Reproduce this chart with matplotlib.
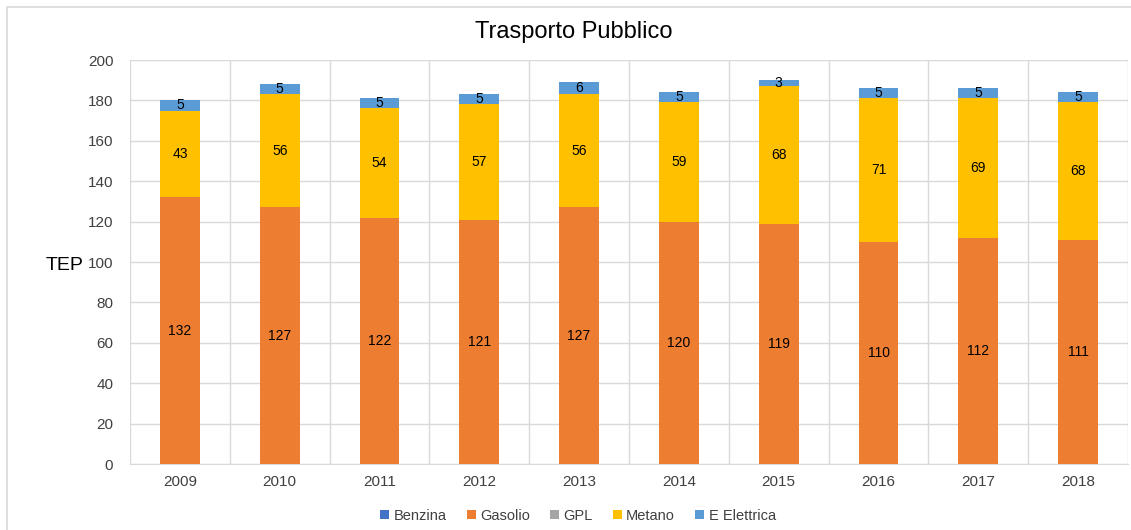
import matplotlib
matplotlib.use("Agg")
import matplotlib.pyplot as plt
from matplotlib.patches import Rectangle
import numpy as np

plt.rcParams['font.family'] = ['Liberation Sans', 'DejaVu Sans']

years = ['2009', '2010', '2011', '2012', '2013', '2014', '2015', '2016', '2017', '2018']
benzina = [0, 0, 0, 0, 0, 0, 0, 0, 0, 0]
gasolio = [132, 127, 122, 121, 127, 120, 119, 110, 112, 111]
gpl = [0, 0, 0, 0, 0, 0, 0, 0, 0, 0]
metano = [43, 56, 54, 57, 56, 59, 68, 71, 69, 68]
elettrica = [5, 5, 5, 5, 6, 5, 3, 5, 5, 5]

series = [
    ('Benzina', benzina, '#4472C4', False),
    ('Gasolio', gasolio, '#ED7D31', True),
    ('GPL', gpl, '#A5A5A5', False),
    ('Metano', metano, '#FFC000', True),
    ('E Elettrica', elettrica, '#5B9BD5', True),
]

W, H = 1131, 530
fig = plt.figure(figsize=(W / 100, H / 100), dpi=100)
ax = fig.add_axes([130 / W, 1 - 464 / H, 998 / W, 404 / H])

x = np.arange(len(years))
bottom = np.zeros(len(years))
for name, vals, color, lab in series:
    v = np.array(vals, dtype=float)
    ax.bar(x, v, 0.4, bottom=bottom, color=color, label=name, zorder=3)
    if lab:
        for xi, b, val in zip(x, bottom, v):
            if val > 0:
                ax.text(xi, b + val / 2, f"{int(val)}", ha='center', va='center',
                        fontsize=10, color='#000000', zorder=4)
    bottom += v

ax.set_xlim(-0.5, len(years) - 0.5)
ax.set_ylim(0, 200)
ax.set_yticks(np.arange(0, 201, 20))
ax.set_xticks(x)
ax.set_xticklabels(years)
ax.set_xticks(np.arange(-0.5, len(years), 1), minor=True)
ax.grid(axis='y', color='#D9D9D9', linewidth=1, zorder=0)
ax.grid(axis='x', which='minor', color='#D9D9D9', linewidth=1, zorder=0)
ax.tick_params(axis='both', which='both', length=0, labelsize=11, colors='#404040')
ax.tick_params(axis='x', pad=8)
ax.tick_params(axis='y', pad=12)
for s in ['top', 'right', 'left']:
    ax.spines[s].set_visible(False)
ax.spines['bottom'].set_color('#D9D9D9')

fig.text(574 / W, 1 - 32 / H, 'Trasporto Pubblico', ha='center', va='center',
         fontsize=17, color='#000000')
fig.text(65 / W, 1 - 265 / H, 'TEP', ha='center', va='center', fontsize=14, color='#000000')

leg = fig.legend(loc='center', bbox_to_anchor=(578 / W, 1 - 516 / H),
                 ncol=5, frameon=False, fontsize=10.5, handlelength=0.6, handleheight=0.6,
                 handletextpad=0.3, columnspacing=1.4)
for t in leg.get_texts():
    t.set_color('#404040')

fig.patches.append(Rectangle((7 / W, -0.1), 1.2, 1 - 7 / H + 0.1, transform=fig.transFigure,
                             fill=False, edgecolor='#D9D9D9', linewidth=1.2, zorder=0))

fig.savefig('out.png', dpi=100)
